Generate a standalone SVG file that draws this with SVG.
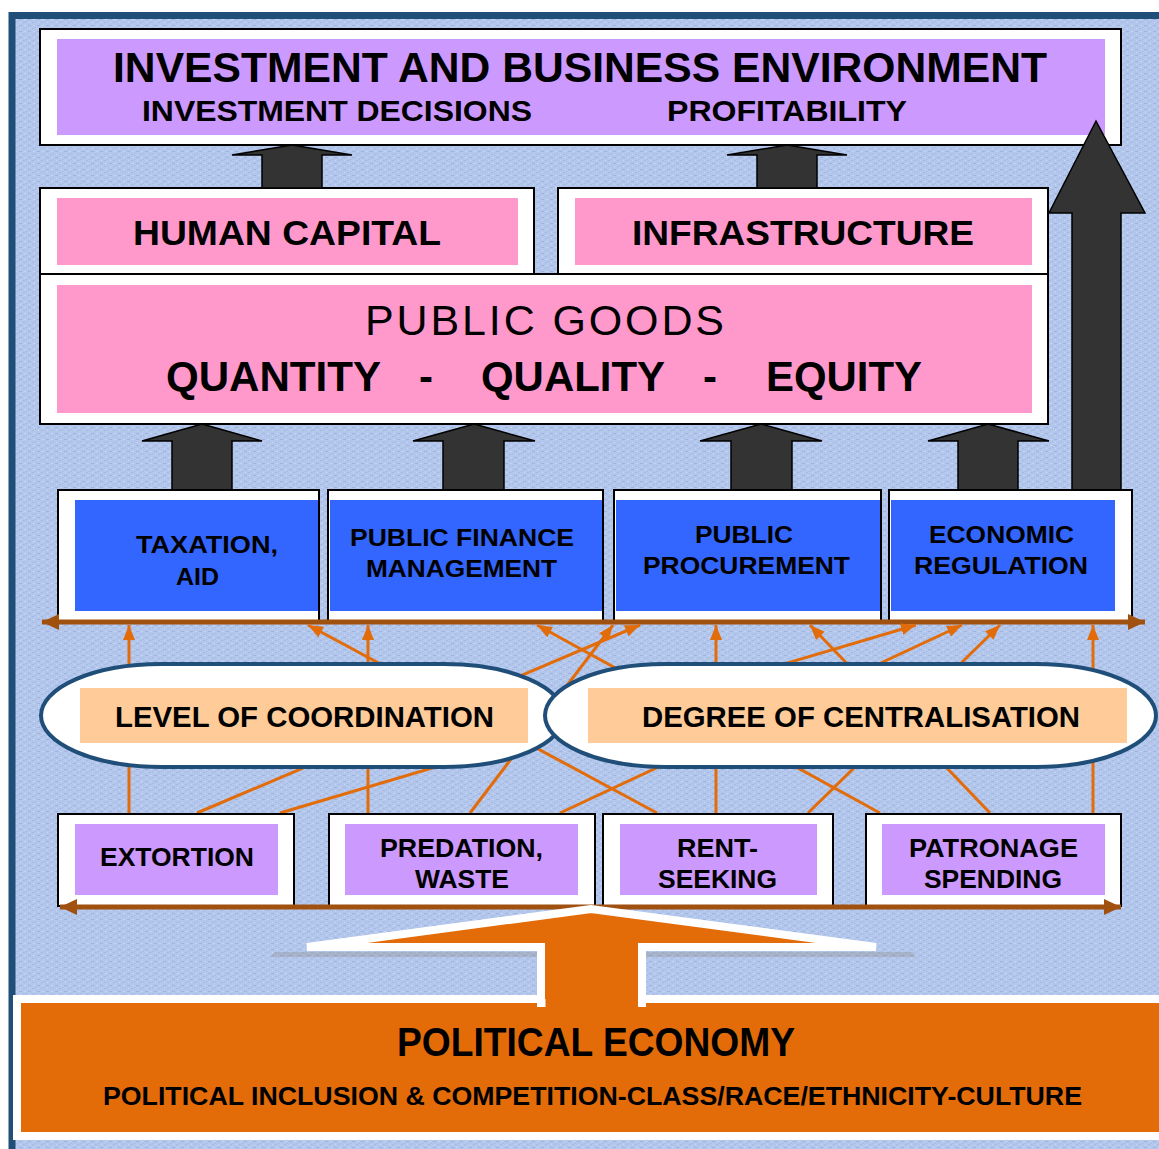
<svg xmlns="http://www.w3.org/2000/svg" width="1159" height="1149" viewBox="0 0 1159 1149">
<defs>
<pattern id="tex" width="9" height="6" patternUnits="userSpaceOnUse">
<rect width="9" height="6" fill="#b3c6ec"/>
<rect x="1" y="1" width="3" height="1" fill="#9fb3dc"/>
<rect x="5" y="4" width="2" height="1" fill="#a5b9e1"/>
<rect x="6" y="1" width="2" height="1" fill="#c6d5f4"/>
<rect x="2" y="4" width="1" height="1" fill="#cad9f7"/>
<rect x="8" y="3" width="1" height="1" fill="#a2b6de"/>
</pattern>
<marker id="oa" markerUnits="userSpaceOnUse" markerWidth="16" markerHeight="12" refX="15" refY="6" orient="auto">
<path d="M0,0 L15,6 L0,12 z" fill="#e36c0a"/>
</marker>
<marker id="ba" markerUnits="userSpaceOnUse" markerWidth="18" markerHeight="16" refX="17" refY="8" orient="auto-start-reverse">
<path d="M0,0 L17,8 L0,16 z" fill="#a0500f"/>
</marker>
</defs>
<style>
.wb{fill:#ffffff;stroke:#000000;stroke-width:2}
.pur{fill:#cc99ff}
.pink{fill:#ff99cc}
.blue{fill:#3366ff}
.lab{fill:#ffcc99}
.dk{fill:#333333;stroke:#000000;stroke-width:1.5;stroke-linejoin:miter}
.t{font-family:"Liberation Sans",Arial,sans-serif;font-weight:bold;fill:#000000}
.tr{font-family:"Liberation Sans",Arial,sans-serif;font-weight:normal;fill:#000000}
.ol{stroke:#e36c0a;stroke-width:3;fill:none;marker-end:url(#oa)}
.bl{stroke:#a0500f;stroke-width:5;fill:none;marker-start:url(#ba);marker-end:url(#ba)}
.ell{fill:#ffffff;stroke:#1f4e79;stroke-width:4}
</style>
<rect width="1159" height="1149" fill="#ffffff"/>
<rect x="12" y="15.5" width="1200" height="1200" fill="url(#tex)" stroke="#1f4e79" stroke-width="7"/>

<g id="investment">
<rect class="wb" x="40" y="29" width="1081" height="116"/>
<rect class="pur" x="57" y="39" width="1048" height="96"/>
<text class="t" x="113" y="82" font-size="42" textLength="934" lengthAdjust="spacingAndGlyphs">INVESTMENT AND BUSINESS ENVIRONMENT</text>
<text class="t" x="142" y="121" font-size="30" textLength="390" lengthAdjust="spacingAndGlyphs">INVESTMENT DECISIONS</text>
<text class="t" x="667" y="121" font-size="30" textLength="240" lengthAdjust="spacingAndGlyphs">PROFITABILITY</text>
</g>

<g id="human-capital">
<rect class="wb" x="40" y="188" width="494" height="86"/>
<rect class="pink" x="57" y="198" width="461" height="67"/>
<text class="t" x="133" y="245" font-size="35" textLength="308" lengthAdjust="spacingAndGlyphs">HUMAN CAPITAL</text>
</g>
<g id="infrastructure">
<rect class="wb" x="558" y="188" width="490" height="86"/>
<rect class="pink" x="575" y="198" width="457" height="67"/>
<text class="t" x="632" y="245" font-size="35" textLength="342" lengthAdjust="spacingAndGlyphs">INFRASTRUCTURE</text>
</g>
<g id="public-goods">
<rect class="wb" x="40" y="274" width="1008" height="150"/>
<rect class="pink" x="57" y="285" width="975" height="128"/>
<text class="tr" x="365" y="335" font-size="43" textLength="359" lengthAdjust="spacing">PUBLIC GOODS</text>
<text class="t" x="166" y="391" font-size="42" textLength="215" lengthAdjust="spacingAndGlyphs">QUANTITY</text>
<text class="t" x="419" y="391" font-size="42">-</text>
<text class="t" x="481" y="391" font-size="42" textLength="184" lengthAdjust="spacingAndGlyphs">QUALITY</text>
<text class="t" x="703" y="391" font-size="42">-</text>
<text class="t" x="766" y="391" font-size="42" textLength="156" lengthAdjust="spacingAndGlyphs">EQUITY</text>
</g>

<g id="arrows-up">
<polygon class="dk" points="292,145 352,155 322,155 322,188 262,188 262,155 232,155"/>
<polygon class="dk" points="787,145 847,155 817,155 817,188 757,188 757,155 727,155"/>
<polygon class="dk" points="202,424 262,441 232,441 232,490 172,490 172,441 142,441"/>
<polygon class="dk" points="474,424 535,441 504,441 504,490 443,490 443,441 413,441"/>
<polygon class="dk" points="761,424 822,441 792,441 792,490 731,490 731,441 700,441"/>
<polygon class="dk" points="988,424 1049,441 1018,441 1018,490 958,490 958,441 928,441"/>
<polygon class="dk" points="1096,121 1145,213 1121,213 1121,490 1072,490 1072,213 1049,213"/>
</g>

<g id="taxation">
<rect class="wb" x="58" y="490" width="261" height="132"/>
<rect class="blue" x="75" y="500" width="243" height="111"/>
<text class="t" x="136" y="553" font-size="24" textLength="142" lengthAdjust="spacingAndGlyphs">TAXATION,</text>
<text class="t" x="176" y="585" font-size="24" textLength="43" lengthAdjust="spacingAndGlyphs">AID</text>
</g>
<g id="public-finance">
<rect class="wb" x="328" y="490" width="275" height="132"/>
<rect class="blue" x="330" y="500" width="272" height="111"/>
<text class="t" x="350" y="546" font-size="24" textLength="224" lengthAdjust="spacingAndGlyphs">PUBLIC FINANCE</text>
<text class="t" x="366" y="577" font-size="24" textLength="191" lengthAdjust="spacingAndGlyphs">MANAGEMENT</text>
</g>
<g id="public-procurement">
<rect class="wb" x="614" y="490" width="267" height="132"/>
<rect class="blue" x="616" y="500" width="264" height="111"/>
<text class="t" x="695" y="543" font-size="24" textLength="98" lengthAdjust="spacingAndGlyphs">PUBLIC</text>
<text class="t" x="643" y="574" font-size="24" textLength="207" lengthAdjust="spacingAndGlyphs">PROCUREMENT</text>
</g>
<g id="economic-regulation">
<rect class="wb" x="889" y="490" width="243" height="132"/>
<rect class="blue" x="891" y="500" width="224" height="111"/>
<text class="t" x="929" y="543" font-size="24" textLength="145" lengthAdjust="spacingAndGlyphs">ECONOMIC</text>
<text class="t" x="914" y="574" font-size="24" textLength="174" lengthAdjust="spacingAndGlyphs">REGULATION</text>
</g>

<g id="connectors">
<line class="bl" x1="42" y1="622" x2="1145" y2="622"/>
<line class="ol" x1="129" y1="813" x2="129" y2="625"/>
<line class="ol" x1="368" y1="813" x2="368" y2="625"/>
<line class="ol" x1="716" y1="813" x2="716" y2="625"/>
<line class="ol" x1="1093" y1="813" x2="1093" y2="625"/>
<line class="ol" x1="657" y1="813" x2="308" y2="625"/>
<line class="ol" x1="880" y1="813" x2="537" y2="625"/>
<line class="ol" x1="470" y1="813" x2="613" y2="625"/>
<line class="ol" x1="197" y1="813" x2="640" y2="625"/>
<line class="ol" x1="280" y1="813" x2="916" y2="625"/>
<line class="ol" x1="560" y1="813" x2="962" y2="625"/>
<line class="ol" x1="808" y1="813" x2="1000" y2="625"/>
<line class="ol" x1="990" y1="813" x2="810" y2="625"/>
</g>

<g id="level-of-coordination">
<rect class="ell" x="41" y="664" width="523" height="103" rx="120" ry="51.5"/>
<rect class="lab" x="80" y="688" width="448" height="55"/>
<text class="t" x="115" y="727" font-size="29" textLength="379" lengthAdjust="spacingAndGlyphs">LEVEL OF COORDINATION</text>
</g>
<g id="degree-of-centralisation">
<rect class="ell" x="545" y="664" width="611" height="103" rx="120" ry="51.5"/>
<rect class="lab" x="588" y="688" width="539" height="55"/>
<text class="t" x="642" y="727" font-size="29" textLength="438" lengthAdjust="spacingAndGlyphs">DEGREE OF CENTRALISATION</text>
</g>

<g id="extortion">
<rect class="wb" x="58" y="814" width="236" height="92"/>
<rect class="pur" x="75" y="824" width="203" height="71"/>
<text class="t" x="100" y="866" font-size="25" textLength="154" lengthAdjust="spacingAndGlyphs">EXTORTION</text>
</g>
<g id="predation">
<rect class="wb" x="329" y="814" width="266" height="92"/>
<rect class="pur" x="345" y="824" width="233" height="71"/>
<text class="t" x="380" y="857" font-size="25" textLength="163" lengthAdjust="spacingAndGlyphs">PREDATION,</text>
<text class="t" x="415" y="888" font-size="25" textLength="94" lengthAdjust="spacingAndGlyphs">WASTE</text>
</g>
<g id="rent-seeking">
<rect class="wb" x="603" y="814" width="230" height="92"/>
<rect class="pur" x="620" y="824" width="197" height="71"/>
<text class="t" x="677" y="857" font-size="25" textLength="81" lengthAdjust="spacingAndGlyphs">RENT-</text>
<text class="t" x="658" y="888" font-size="25" textLength="119" lengthAdjust="spacingAndGlyphs">SEEKING</text>
</g>
<g id="patronage">
<rect class="wb" x="866" y="814" width="255" height="92"/>
<rect class="pur" x="882" y="824" width="223" height="71"/>
<text class="t" x="909" y="857" font-size="25" textLength="169" lengthAdjust="spacingAndGlyphs">PATRONAGE</text>
<text class="t" x="924" y="888" font-size="25" textLength="138" lengthAdjust="spacingAndGlyphs">SPENDING</text>
</g>

<g id="lower-connector">
<line class="bl" x1="60" y1="907" x2="1121" y2="907"/>
</g>

<g id="political-economy">
<rect x="17" y="999" width="1160" height="137" fill="#e36c09" stroke="#ffffff" stroke-width="8"/>
<polygon points="275,952 545,952 545,957 270,957" fill="#8c8c8c" opacity="0.35"/>
<polygon points="638,952 912,952 916,957 638,957" fill="#8c8c8c" opacity="0.35"/>
<polygon points="591,909 307,947 541,947 541,1003 642,1003 642,947 876,947" fill="#e36c09" stroke="#ffffff" stroke-width="8"/>
<rect x="545.5" y="990" width="92.5" height="18" fill="#e36c09"/>
<text class="t" x="397" y="1056" font-size="40" textLength="398" lengthAdjust="spacingAndGlyphs">POLITICAL ECONOMY</text>
<text class="t" x="103" y="1105" font-size="26" textLength="979" lengthAdjust="spacingAndGlyphs">POLITICAL INCLUSION &amp; COMPETITION-CLASS/RACE/ETHNICITY-CULTURE</text>
</g>
</svg>
